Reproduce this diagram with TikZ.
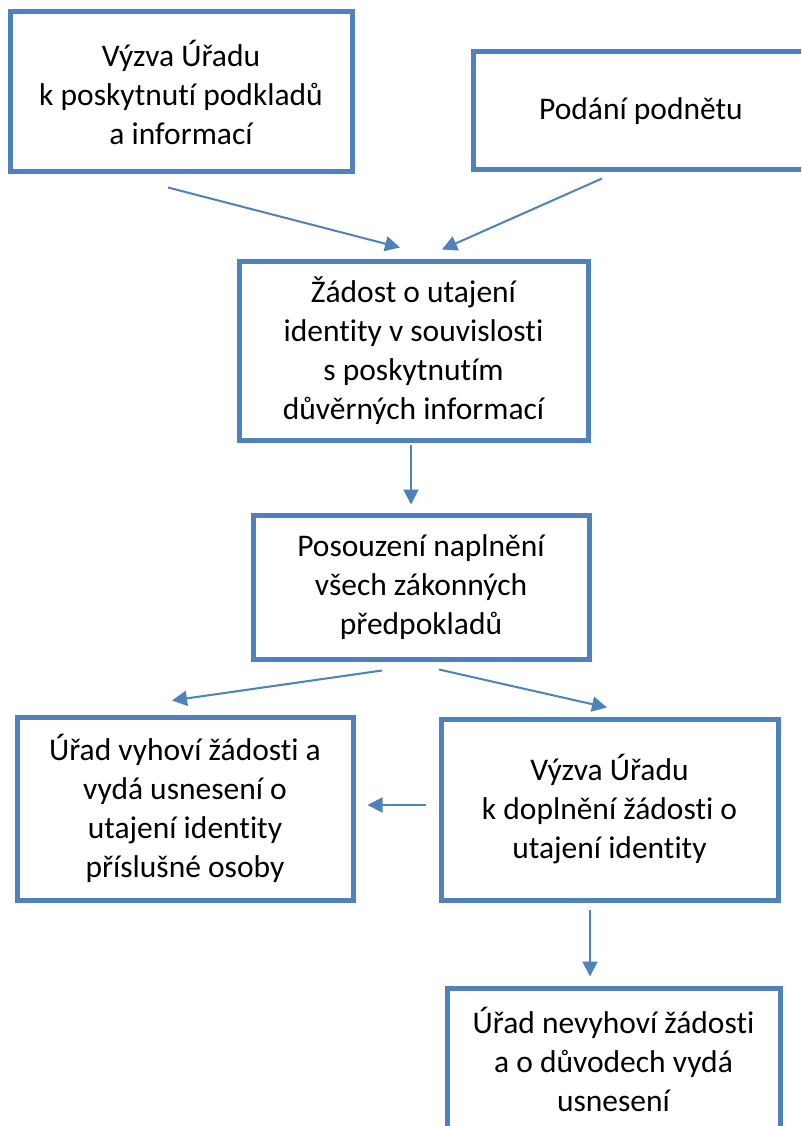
\documentclass[tikz,border=0pt]{standalone}
\usepackage{fontspec}
\setmainfont[Ligatures=NoCommon]{Carlito}
\usetikzlibrary{arrows.meta,calc}
\definecolor{ofblue}{HTML}{4F81BD}
\tikzset{
  box/.style={draw=ofblue, line width=5pt, rectangle, inner sep=0pt, align=center,
    font=\fontsize{31.5}{39}\selectfont, text=black},
  arr/.style={draw=ofblue, line width=2pt, -{Triangle[length=15pt,width=15pt]}}
}
\begin{document}
\begin{tikzpicture}[x=1pt,y=-1pt]
\useasboundingbox (0,0) rectangle (801,1126);
\clip (0,0) rectangle (801,1126);
\fill[white] (0,0) rectangle (801,1126);
\node[box, minimum width=342pt, minimum height=160pt] (A) at (181,92) {Výzva Úřadu\\k poskytnutí podkladů\\a informací};
\node[box, minimum width=336pt, minimum height=118pt] (B) at (641,111) {Podání podnětu};
\node[box, minimum width=349pt, minimum height=179pt] (C) at (413.5,350.5) {Žádost o utajení\\identity v souvislosti\\s poskytnutím\\důvěrných informací};
\node[box, minimum width=336pt, minimum height=144pt] (D) at (421,587) {Posouzení naplnění\\všech zákonných\\předpokladů};
\node[box, minimum width=336pt, minimum height=183pt] (E) at (185,808.5) {Úřad vyhoví žádosti a\\vydá usnesení o\\utajení identity\\příslušné osoby};
\node[box, minimum width=337pt, minimum height=181pt] (F) at (609.5,809.5) {Výzva Úřadu\\k doplnění žádosti o\\utajení identity};
\node[box, minimum width=333pt, minimum height=142pt] (G) at (613.5,1059) {Úřad nevyhoví žádosti\\a o důvodech vydá\\usnesení};
\draw[arr] ($(A.south)+(-13,13)$) -- ($(C.north)+(-13.5,-11)$);
\draw[arr] ($(B.south)+(-39,6)$) -- ($(C.north)+(28.5,-9)$);
\draw[arr] ($(C.south)+(-2.5,2)$) -- ($(D.north)+(-10,-8)$);
\draw[arr] ($(D.south)+(-39,9)$) -- ($(E.north)+(-13,-14)$);
\draw[arr] ($(D.south)+(18,8)$) -- ($(F.north)+(-2.5,-9)$);
\draw[arr] ($(F.west)+(-13,-4.5)$) -- ($(E.east)+(12,-3.5)$);
\draw[arr] ($(F.south)+(-19.5,7)$) -- ($(G.north)+(-23.5,-9)$);
\end{tikzpicture}
\end{document}
